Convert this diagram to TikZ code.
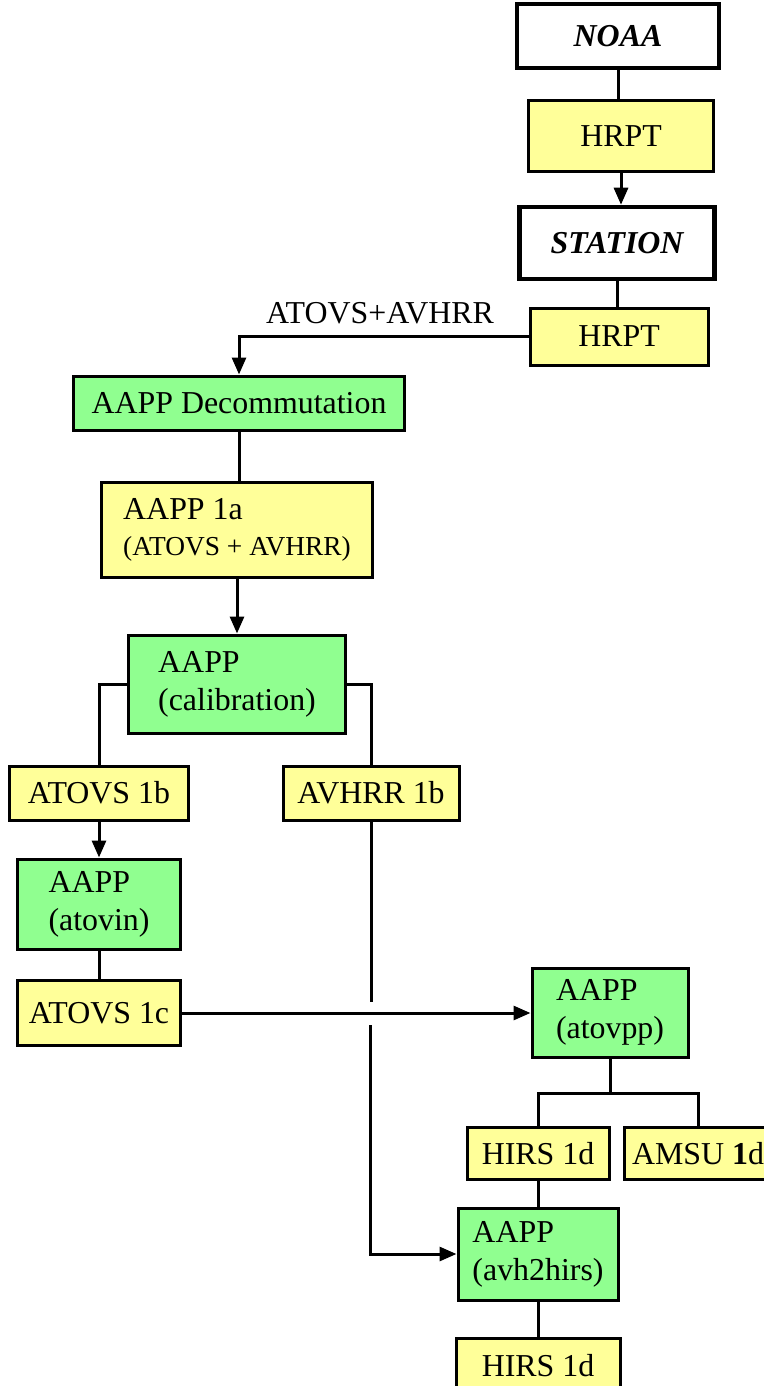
\documentclass[tikz,border=0pt]{standalone}
\usepackage{fontspec}
\setmainfont{Liberation Serif}
\usetikzlibrary{arrows.meta}
\definecolor{boxyellow}{HTML}{FFFF99}
\definecolor{boxgreen}{HTML}{90FF90}
\tikzset{
  basebox/.style={draw=black, line width=3bp, inner sep=0pt, align=left,
    font=\fontsize{32}{38}\selectfont},
  ybox/.style={basebox, fill=boxyellow},
  gbox/.style={basebox, fill=boxgreen},
  wbox/.style={basebox, fill=white, line width=4.5bp,
    font=\fontsize{32}{38}\selectfont\bfseries\itshape},
  plainlabel/.style={font=\fontsize{32}{38}\selectfont, inner sep=0pt},
  conn/.style={line width=3bp},
  arr/.style={conn, -{Triangle[length=17bp,width=14bp]}}
}
\newcommand{\smalltxt}[1]{{\fontsize{27.5}{32}\selectfont #1}}
\begin{document}
\begin{tikzpicture}[x=1bp,y=-1bp]
\useasboundingbox (0,0) rectangle (763,1386);
% boxes
\node[wbox, minimum width=202bp, minimum height=64bp] (noaa) at (618,36) {NOAA};
\node[ybox, minimum width=185bp, minimum height=71bp] (hrpt1) at (621,136.5) {HRPT};
\node[wbox, minimum width=195bp, minimum height=72bp] (station) at (617,243) {STATION};
\node[ybox, minimum width=178bp, minimum height=57bp] (hrpt2) at (619,336.5) {HRPT};
\node[plainlabel] (lbl) at (380,313) {ATOVS+AVHRR};
\node[gbox, minimum width=330bp, minimum height=54bp] (decomm) at (239,403) {AAPP Decommutation};
\node[ybox, minimum width=271bp, minimum height=95bp] (l1a) at (237,529.5) {AAPP 1a\\[-2bp]\smalltxt{(ATOVS + AVHRR)}};
\node[gbox, minimum width=217bp, minimum height=98bp] (calib) at (237,684) {AAPP\\(calibration)};
\node[ybox, minimum width=178bp, minimum height=54bp] (atovs1b) at (99,793) {ATOVS 1b};
\node[ybox, minimum width=176bp, minimum height=54bp] (avhrr1b) at (371,793) {AVHRR 1b};
\node[gbox, minimum width=162bp, minimum height=90bp] (atovin) at (99,904) {AAPP\\(atovin)};
\node[ybox, minimum width=162bp, minimum height=65bp] (atovs1c) at (99,1013) {ATOVS 1c};
\node[gbox, minimum width=156bp, minimum height=89bp] (atovpp) at (610,1012.5) {AAPP\\(atovpp)};
\node[ybox, minimum width=142bp, minimum height=52bp] (hirs1d) at (538,1153.5) {HIRS 1d};
\node[ybox, minimum width=148bp, minimum height=52bp] (amsu1d) at (698,1153.5) {AMSU \textbf{1}d};
\node[gbox, minimum width=160bp, minimum height=92bp] (avh2hirs) at (538,1254) {AAPP\\(avh2hirs)};
\node[ybox, minimum width=164bp, minimum height=56bp] (hirs1db) at (538,1366) {HIRS 1d};
% connectors
\draw[conn] (noaa.south) -- (noaa.south |- hrpt1.north);
\draw[arr] (hrpt1.south) -- (hrpt1.south |- station.north);
\draw[conn] (station.south) -- (station.south |- hrpt2.north);
\draw[arr] (hrpt2.west) -| (decomm.north);
\draw[conn] (decomm.south) -- (decomm.south |- l1a.north);
\draw[arr] (l1a.south) -- (calib.north);
\draw[conn] (calib.west) -| (atovs1b.north);
\draw[conn] (calib.east) -| (avhrr1b.north);
\draw[arr] (atovs1b.south) -- (atovin.north);
\draw[conn] (atovin.south) -- (atovs1c.north);
\draw[arr] (atovs1c.east) -- (atovs1c.east -| atovpp.west);
\coordinate (gaptop) at (371,1002);
\coordinate (gapbot) at (370,1025);
\draw[conn] (avhrr1b.south) -- (gaptop);
\draw[arr] (gapbot) |- (avh2hirs.west);
\coordinate (split) at (610,1093);
\draw[conn] (atovpp.south) -- (split);
\draw[conn] (hirs1d.north) |- (split) -| (amsu1d.north);
\draw[conn] (hirs1d.south) -- (avh2hirs.north);
\draw[conn] (avh2hirs.south) -- (hirs1db.north);
\end{tikzpicture}
\end{document}
